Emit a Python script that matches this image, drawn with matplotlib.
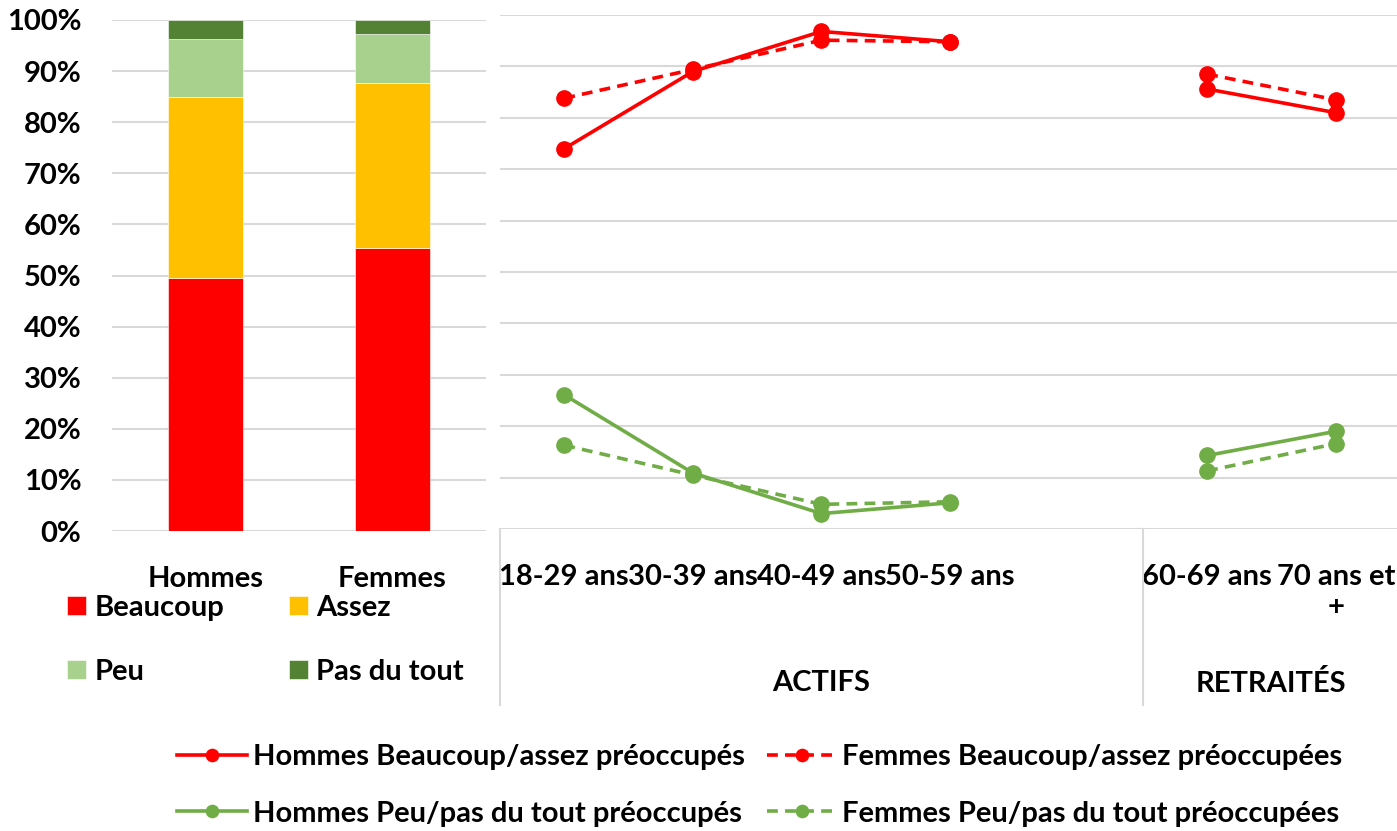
import numpy as np
import matplotlib
matplotlib.use('Agg')
import matplotlib.pyplot as plt
from matplotlib.ticker import PercentFormatter

plt.rcParams['font.family'] = ['Lato', 'DejaVu Sans']
plt.rcParams['font.weight'] = 'bold'

# stacked bars (share in %)
sexes = ['Hommes', 'Femmes']
bar_levels = ['Beaucoup', 'Assez', 'Peu', 'Pas du tout']
beaucoup = [49.5, 55.4]
assez = [35.5, 32.2]
peu = [11.2, 9.7]
pas_du_tout = [3.8, 2.7]

# lines by age group (blank slot between the two groups)
ages = ['18-29 ans', '30-39 ans', '40-49 ans', '50-59 ans', '', '60-69 ans', '70 ans et\n+']
groups = ['ACTIFS', 'RETRAITÉS']
hommes_preo = [74.0, 89.0, 96.8, 94.8, np.nan, 85.6, 81.0]
femmes_preo = [83.8, 89.4, 95.1, 94.8, np.nan, 88.5, 83.5]
hommes_peu = [26.1, 10.9, 3.0, 5.1, np.nan, 14.3, 19.0]
femmes_peu = [16.3, 10.5, 4.8, 5.3, np.nan, 11.3, 16.6]

RED = '#FF0000'
ORANGE = '#FFC000'
LGREEN = '#A9D18E'
DGREEN = '#548235'
LINEGREEN = '#70AD47'
GRID = '#D9D9D9'
FS = 21

W, H = 1397, 831
fig = plt.figure(figsize=(W / 100, H / 100), dpi=100)

# ---- left: stacked bars
ax1 = fig.add_axes([112 / W, 1 - 531 / H, 374 / W, 511 / H])
x = np.arange(len(sexes))
bottom = np.zeros(len(sexes))
bars = []
for vals, col in zip([beaucoup, assez, peu, pas_du_tout], [RED, ORANGE, LGREEN, DGREEN]):
    b = ax1.bar(x, vals, bottom=bottom, width=0.4, color=col, edgecolor='white', linewidth=0.4, zorder=3)
    bars.append(b)
    bottom += np.array(vals)
ax1.set_xlim(-0.5, 1.5)
ax1.set_ylim(0, 100)
ax1.set_yticks(np.arange(0, 101, 10))
ax1.yaxis.set_major_formatter(PercentFormatter(decimals=0))
ax1.set_xticks(x)
ax1.set_xticklabels(sexes)
ax1.tick_params(axis='both', length=0, labelsize=FS)
ax1.tick_params(axis='y', pad=22)
ax1.tick_params(axis='x', pad=25)
ax1.grid(axis='y', color=GRID, linewidth=1.5, zorder=0)
for s in ax1.spines.values():
    s.set_visible(False)

fig.legend([bars[0], bars[2], bars[1], bars[3]],
           [bar_levels[0], bar_levels[2], bar_levels[1], bar_levels[3]],
           ncol=2, loc='upper left', bbox_to_anchor=(67 / W, 1 - 595 / H),
           frameon=False, fontsize=FS, handlelength=0.65, handleheight=0.65,
           handletextpad=0.3, columnspacing=2.2, labelspacing=1.3,
           borderpad=0, borderaxespad=0)

# ---- right: lines by age
ax2 = fig.add_axes([500 / W, 1 - 529 / H, 900 / W, 514 / H])
xa = np.arange(len(ages))
lw = 2.6
ms = 11
l1, = ax2.plot(xa, hommes_preo, color=RED, lw=lw, marker='o', ms=ms, zorder=4)
l2, = ax2.plot(xa, femmes_preo, color=RED, lw=lw, ls=(0, (3, 2)), marker='o', ms=ms, zorder=4)
l3, = ax2.plot(xa, hommes_peu, color=LINEGREEN, lw=lw, marker='o', ms=ms, zorder=4)
l4, = ax2.plot(xa, femmes_peu, color=LINEGREEN, lw=lw, ls=(0, (3, 2)), marker='o', ms=ms, zorder=4)
ax2.set_xlim(-0.5, len(ages) - 0.5)
ax2.set_ylim(0, 100)
ax2.set_yticks(np.arange(0, 101, 10))
ax2.set_yticklabels([])
ax2.set_xticks(xa)
ax2.set_xticklabels(ages)
ax2.tick_params(axis='both', length=0, labelsize=FS)
ax2.tick_params(axis='x', pad=25)
ax2.grid(axis='y', color=GRID, linewidth=1.5, zorder=0)
for s in ax2.spines.values():
    s.set_visible(False)

# category box with group labels
tr = ax2.get_xaxis_transform()
box_bottom = -(705 - 529) / 514
for xv in [-0.5, 4.5]:
    ax2.plot([xv, xv], [0, box_bottom], color=GRID, lw=1.5, transform=tr, clip_on=False)
ax2.text(2.0, -0.30, groups[0], transform=tr, ha='center', va='center', fontsize=FS)
ax2.text(5.5, -0.30, groups[1], transform=tr, ha='center', va='center', fontsize=FS)

fig.legend([l1, l3, l2, l4],
           ['Hommes Beaucoup/assez préoccupés', 'Hommes Peu/pas du tout préoccupés',
            'Femmes Beaucoup/assez préoccupées', 'Femmes Peu/pas du tout préoccupées'],
           ncol=2, loc='upper left', bbox_to_anchor=(177 / W, 1 - 744 / H),
           frameon=False, fontsize=FS, handlelength=2.4, handletextpad=0.2,
           columnspacing=0.75, labelspacing=1.05, borderpad=0, borderaxespad=0,
           markerscale=0.8)

fig.savefig('out.png', dpi=100)
